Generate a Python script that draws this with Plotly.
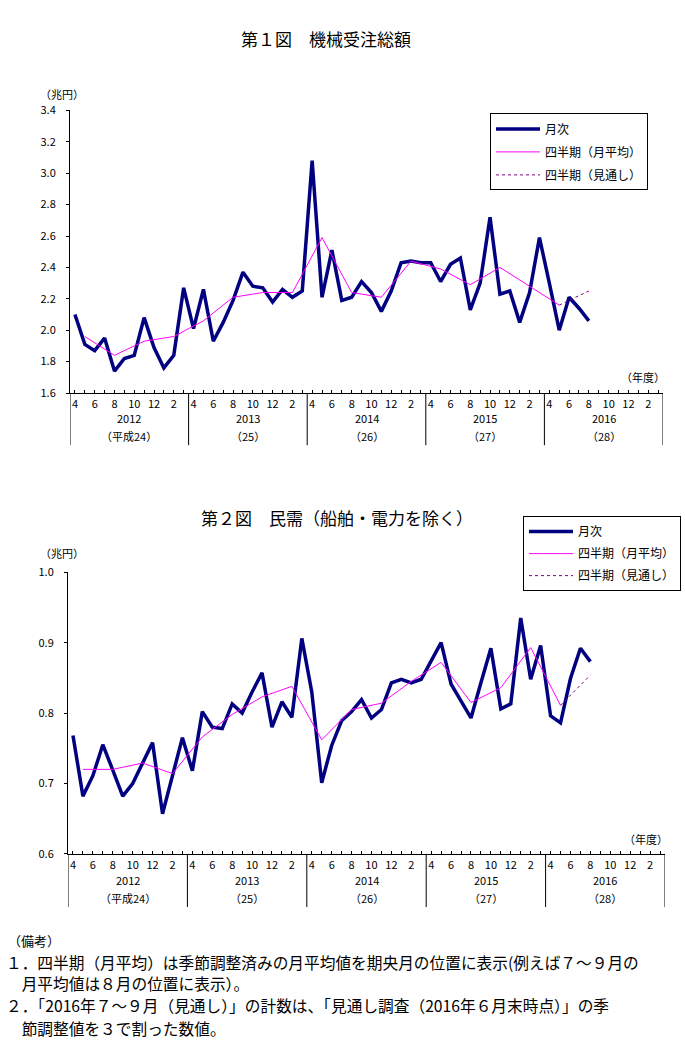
import plotly.graph_objects as go

W, H = 685, 1045
FONT = "Noto Sans CJK JP"

# ---------------- data ----------------
fiscal_years = ["2012", "2013", "2014", "2015", "2016"]
heisei_labels = ["（平成24）", "（25）", "（26）", "（27）", "（28）"]
month_labels = ["4", "", "6", "", "8", "", "10", "", "12", "", "2", ""]

# Chart 1: 機械受注総額 (兆円), monthly from 2012/4 to 2016/8
total_monthly = [
    2.10, 1.91, 1.87, 1.95, 1.74, 1.82, 1.84, 2.08, 1.89, 1.76, 1.84, 2.27,
    2.01, 2.26, 1.93, 2.05, 2.19, 2.37, 2.28, 2.27, 2.18, 2.26, 2.21, 2.25,
    3.08, 2.21, 2.51, 2.19, 2.21, 2.31, 2.24, 2.12, 2.25, 2.43, 2.44, 2.43,
    2.43, 2.31, 2.42, 2.46, 2.13, 2.30, 2.72, 2.23, 2.25, 2.05, 2.24, 2.59,
    2.30, 2.00, 2.21, 2.14, 2.06,
]
total_quarterly = [1.96, 1.84, 1.93, 1.96, 2.06, 2.21, 2.24, 2.24, 2.59, 2.24,
                   2.21, 2.44, 2.39, 2.29, 2.40, 2.28, 2.16]
total_forecast = [2.16, 2.25]

# Chart 2: 民需（船舶・電力を除く） (兆円)
private_monthly = [
    0.768, 0.682, 0.711, 0.755, 0.719, 0.682, 0.700, 0.729, 0.758, 0.657, 0.711, 0.765,
    0.718, 0.802, 0.780, 0.778, 0.813, 0.800, 0.830, 0.857, 0.780, 0.816, 0.794, 0.906,
    0.830, 0.701, 0.754, 0.789, 0.802, 0.819, 0.793, 0.805, 0.843, 0.848, 0.843, 0.848,
    0.874, 0.900, 0.841, 0.817, 0.793, 0.843, 0.892, 0.806, 0.813, 0.935, 0.848, 0.896,
    0.796, 0.786, 0.849, 0.892, 0.873,
]
private_quarterly = [0.720, 0.720, 0.729, 0.714, 0.766, 0.798, 0.823, 0.838, 0.762, 0.805,
                     0.814, 0.845, 0.872, 0.815, 0.836, 0.893, 0.811]
private_forecast = [0.811, 0.854]

n_months = 12 * len(fiscal_years)
month_idx = list(range(len(total_monthly)))
quarter_idx = [3 * q + 1 for q in range(len(total_quarterly))]
forecast_idx = [quarter_idx[-1], quarter_idx[-1] + 3]

NAVY = "#000080"
MAGENTA = "#FF00FF"
PURPLE = "#800080"


def py(y):
    return 1 - y / H


def px(x):
    return x / W


fig = go.Figure()

charts = [
    dict(monthly=total_monthly, quarterly=total_quarterly, forecast=total_forecast,
         xa="x", ya="y", legend="legend"),
    dict(monthly=private_monthly, quarterly=private_quarterly, forecast=private_forecast,
         xa="x2", ya="y2", legend="legend2"),
]

for c in charts:
    fig.add_trace(go.Scatter(x=month_idx, y=c["monthly"], mode="lines", name="月次",
                             line=dict(color=NAVY, width=3.5), xaxis=c["xa"], yaxis=c["ya"],
                             legend=c["legend"], legendgroup=c["legend"] + "a"))
    fig.add_trace(go.Scatter(x=quarter_idx, y=c["quarterly"], mode="lines", name="四半期（月平均）",
                             line=dict(color=MAGENTA, width=1), xaxis=c["xa"], yaxis=c["ya"],
                             legend=c["legend"], legendgroup=c["legend"] + "b"))
    fig.add_trace(go.Scatter(x=forecast_idx, y=c["forecast"], mode="lines", name="四半期（見通し）",
                             line=dict(color=PURPLE, width=1, dash="dot"), xaxis=c["xa"], yaxis=c["ya"],
                             legend=c["legend"], legendgroup=c["legend"] + "c"))

# geometry (pixels)
plot1 = dict(x0=70, x1=663, y0=103, y1=390, div_bottom=443, yr=415, hs=434)
plot2 = dict(x0=68, x1=665, y0=572, y1=858, div_bottom=912, yr=885, hs=903)

tickvals = list(range(n_months))
ticktext = [month_labels[i % 12] for i in range(n_months)]

xcommon = dict(range=[-0.5, n_months - 0.5], tickmode="array", tickvals=tickvals,
               ticktext=ticktext, ticks="inside", ticklen=3, tickwidth=1, tickcolor="black",
               showline=True, linecolor="black", linewidth=1, showgrid=False, zeroline=False,
               tickfont=dict(family=FONT, size=11, color="black"), ticklabelstandoff=1,
               fixedrange=True)
ycommon = dict(ticks="outside", ticklen=3, tickwidth=1, tickcolor="black", showline=True,
               linecolor="black", linewidth=1, showgrid=False, zeroline=False,
               tickfont=dict(family=FONT, size=11, color="black"), ticklabelstandoff=8,
               fixedrange=True)

legend_common = dict(xanchor="left", yanchor="top", bordercolor="black", borderwidth=1,
                     bgcolor="white", font=dict(family=FONT, size=12), itemwidth=44)

fig.update_layout(
    width=W, height=H, margin=dict(l=0, r=0, t=0, b=0),
    paper_bgcolor="white", plot_bgcolor="white",
    font=dict(family=FONT, color="black"),
    xaxis=dict(domain=[px(plot1["x0"]), px(plot1["x1"])], anchor="y", **xcommon),
    yaxis=dict(domain=[py(plot1["y1"]), py(plot1["y0"])], anchor="x", range=[1.6, 3.4],
               tickmode="linear", tick0=1.6, dtick=0.2, tickformat=".1f", **ycommon),
    xaxis2=dict(domain=[px(plot2["x0"]), px(plot2["x1"])], anchor="y2", **xcommon),
    yaxis2=dict(domain=[py(plot2["y1"]), py(plot2["y0"])], anchor="x2", range=[0.6, 1.0],
                tickmode="linear", tick0=0.6, dtick=0.1, tickformat=".1f", **ycommon),
    legend=dict(x=px(490), y=py(106), tracegroupgap=4, **legend_common),
    legend2=dict(x=px(523), y=py(515), tracegroupgap=3, **legend_common),
)

annotations = []
shapes = []
for p, xa in ((plot1, "x"), (plot2, "x2")):
    for k, (yr, hs) in enumerate(zip(fiscal_years, heisei_labels)):
        annotations.append(dict(x=12 * k + 5.5, y=py(p["yr"]), xref=xa, yref="paper", text=yr,
                                showarrow=False, font=dict(size=11), xanchor="center", yanchor="middle"))
        annotations.append(dict(x=12 * k + 5.5, y=py(p["hs"]), xref=xa, yref="paper", text=hs,
                                showarrow=False, font=dict(size=11), xanchor="center", yanchor="middle"))
    for k in range(len(fiscal_years) + 1):
        shapes.append(dict(type="line", xref=xa, yref="paper", x0=12 * k - 0.5, x1=12 * k - 0.5,
                           y0=py(p["y1"]), y1=py(p["div_bottom"]), line=dict(color="black", width=1)))

texts = [
    ("第１図　機械受注総額", 326, 30, 17, "center"),
    ("第２図　民需（船舶・電力を除く）", 337, 516, 17, "center"),
    ("（兆円）", 62, 86, 11, "center"),
    ("（兆円）", 62, 552, 11, "center"),
    ("（年度）", 643, 374, 11, "center"),
    ("（年度）", 646, 843, 11, "center"),
    ("（備考）", 6, 946, 13, "left"),
    ("１．四半期（月平均）は季節調整済みの月平均値を期央月の位置に表示(例えば７～９月の", 4, 968, 15.7, "left"),
    ("　月平均値は８月の位置に表示）。", 4, 990, 15.7, "left"),
    ("２．「2016年７～９月（見通し）」の計数は、「見通し調査（2016年６月末時点）」の季", 4, 1012, 15.7, "left"),
    ("　節調整値を３で割った数値。", 4, 1035, 15.7, "left"),
]
for t, x, y, s, anc in texts:
    annotations.append(dict(x=px(x), y=py(y), xref="paper", yref="paper", text=t, showarrow=False,
                            font=dict(size=s), xanchor=anc, yanchor="middle"))

fig.update_layout(annotations=annotations, shapes=shapes)

fig.write_html("out.html", config={"displayModeBar": False},
               post_script="document.body.style.margin='0';document.body.style.overflow='hidden';")
